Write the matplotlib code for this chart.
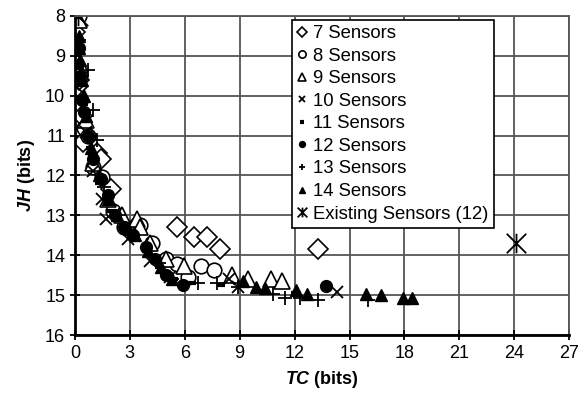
import numpy as np
import matplotlib
matplotlib.use("Agg")
import matplotlib.pyplot as plt
from matplotlib.path import Path

plt.rcParams["font.family"] = ["Liberation Sans", "DejaVu Sans"]
plt.rcParams["mathtext.fontset"] = "custom"
plt.rcParams["mathtext.bfit"] = "Liberation Sans:italic:bold"
plt.rcParams["mathtext.rm"] = "Liberation Sans:bold"

# data (TC, JH in bits)
s7_tc = [0.05, 0.0, 0.2, 0.4, 0.45, 1.2, 1.4, 2.0, 3.4, 5.6, 6.5, 7.2, 7.9, 13.3]
s7_jh = [8.0, 8.4, 9.6, 10.5, 11.15, 11.45, 11.6, 12.35, 13.25, 13.3, 13.55, 13.55, 13.85, 13.85]

s8_tc = [0.2, 0.3, 0.5, 0.7, 1.0, 1.5, 2.1, 2.7, 3.55, 4.2, 5.0, 5.6, 6.9, 7.6, 6.2]
s8_jh = [8.0, 9.5, 10.8, 11.0, 11.8, 12.05, 12.9, 13.3, 13.25, 13.7, 14.1, 14.23, 14.26, 14.36, 14.55]

s9_tc = [0.2, 0.3, 0.6, 1.0, 1.8, 2.6, 3.4, 3.55, 4.1, 5.0, 5.95, 8.6, 9.45, 10.7, 11.3]
s9_jh = [8.1, 9.2, 10.6, 11.7, 12.6, 13.0, 13.1, 13.3, 13.7, 14.1, 14.28, 14.5, 14.6, 14.6, 14.65]

s10_tc = [0.15, 0.4, 0.6, 1.0, 1.5, 1.7, 2.9, 4.1, 5.2, 8.4, 8.9, 14.3]
s10_jh = [8.0, 9.9, 10.9, 11.9, 12.6, 13.1, 13.6, 14.15, 14.55, 14.6, 14.8, 14.93]

s11_tc = [0.3, 0.5, 0.8, 1.3, 2.0, 2.8, 3.9, 4.6, 5.4, 6.4, 8.0, 10.2, 12.0]
s11_jh = [9.3, 10.2, 11.3, 12.2, 12.9, 13.4, 13.9, 14.3, 14.6, 14.7, 14.75, 14.9, 14.95]

s12_tc = [0.2, 0.3, 0.4, 0.5, 0.7, 1.0, 1.4, 1.8, 2.2, 2.7, 3.2, 3.9, 4.4, 5.0, 5.9, 13.7]
s12_jh = [8.8, 9.5, 10.1, 10.4, 11.0, 11.6, 12.1, 12.5, 13.0, 13.3, 13.5, 13.8, 14.1, 14.5, 14.75, 14.76]

s13_tc = [0.2, 0.7, 1.0, 1.2, 1.6, 2.4, 3.0, 4.6, 5.3, 6.7, 7.75, 8.9, 10.8, 11.5, 12.3, 13.3, 16.0]
s13_jh = [8.6, 9.35, 10.35, 11.1, 12.3, 13.0, 13.5, 14.2, 14.6, 14.7, 14.7, 14.8, 14.96, 15.08, 15.08, 15.13, 15.13]

s14_tc = [0.2, 0.25, 0.3, 0.4, 0.5, 0.6, 0.9, 1.3, 1.8, 2.3, 2.8, 3.3, 4.0, 4.7, 5.3,
          9.2, 9.9, 10.4, 12.1, 12.7, 15.9, 16.7, 17.9, 18.4]
s14_jh = [8.5, 8.8, 9.1, 9.6, 10.0, 10.5, 11.3, 12.0, 12.6, 13.0, 13.3, 13.5, 13.9, 14.3, 14.6,
          14.65, 14.8, 14.82, 14.88, 14.96, 14.96, 15.0, 15.06, 15.06]

ex_tc = [0.15, 24.1]
ex_jh = [8.0, 13.7]

# X with a vertical stroke, like the original "existing sensors" symbol
ex_marker = Path(
    [(-1, -1), (1, 1), (-1, 1), (1, -1), (0, -1), (0, 1)],
    [Path.MOVETO, Path.LINETO, Path.MOVETO, Path.LINETO, Path.MOVETO, Path.LINETO],
)
dash_marker = Path([(-1, 0), (1, 0)], [Path.MOVETO, Path.LINETO])

series = [
    (s7_tc, s7_jh, "7 Sensors", dict(marker="D", ms=10.5, mfc="white", mec="black", mew=1.2)),
    (s8_tc, s8_jh, "8 Sensors", dict(marker="o", ms=10.5, mfc="white", mec="black", mew=1.2)),
    (s9_tc, s9_jh, "9 Sensors", dict(marker="^", ms=11, mfc="white", mec="black", mew=1.2)),
    (s10_tc, s10_jh, "10 Sensors", dict(marker="x", ms=9, mec="black", mew=1.3)),
    (s11_tc, s11_jh, "11 Sensors", dict(marker=dash_marker, ms=6, mec="black", mew=3)),
    (s12_tc, s12_jh, "12 Sensors", dict(marker="o", ms=8.5, mfc="black", mec="black")),
    (s13_tc, s13_jh, "13 Sensors", dict(marker="+", ms=10, mec="black", mew=1.3)),
    (s14_tc, s14_jh, "14 Sensors", dict(marker="^", ms=8.5, mfc="black", mec="black")),
    (ex_tc, ex_jh, "Existing Sensors (12)", dict(marker=ex_marker, ms=14, mec="black", mew=1.3)),
]

fig = plt.figure(figsize=(5.85, 3.96), dpi=100)
ax = fig.add_axes([0.128, 0.154, 0.845, 0.806])

for tc, jh, label, style in series:
    ax.plot(tc, jh, linestyle="none", label=label, **style)

ax.set_xlim(0, 27)
ax.set_ylim(16, 8)
ax.set_xticks(np.arange(0, 28, 3))
ax.set_yticks(np.arange(8, 17, 1))
ax.grid(True, color="#555555", linewidth=1.3)
ax.set_axisbelow(True)
ax.tick_params(direction="inout", length=7, width=1.3, labelsize=13)
for side in ["left", "bottom"]:
    ax.spines[side].set_linewidth(2)
for side in ["top", "right"]:
    ax.spines[side].set_color("#555555")
    ax.spines[side].set_linewidth(1.3)

ax.set_xlabel(r"$\mathbfit{TC}$ (bits)", fontsize=13, fontweight="bold", labelpad=5)
ax.set_ylabel(r"$\mathbfit{JH}$ (bits)", fontsize=13, fontweight="bold", labelpad=6)

leg = ax.legend(loc="upper right", bbox_to_anchor=(0.848, 0.988), fontsize=13.3,
                frameon=True, fancybox=False, framealpha=1, edgecolor="black",
                handlelength=0.5, handletextpad=0.35, labelspacing=0.3,
                borderpad=0.3, borderaxespad=0, markerscale=0.5)
leg.get_frame().set_linewidth(1.2)

fig.savefig("out.png", dpi=100)
